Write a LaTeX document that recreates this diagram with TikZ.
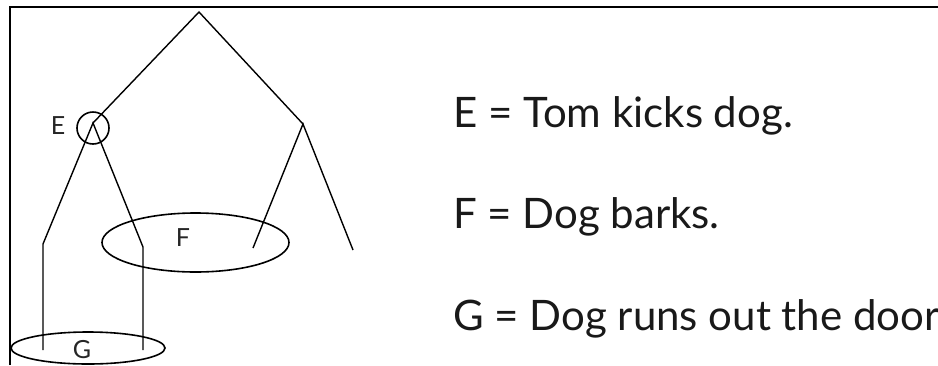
\documentclass[tikz,border=0pt]{standalone}
\usepackage{fontspec}
\setmainfont{Lato}
\usetikzlibrary{shapes.geometric}
\begin{document}
\begin{tikzpicture}[x=1pt,y=-1pt,
  frameline/.style={line width=2.2pt,black},
  branch/.style={line width=1.4pt,black},
  ring/.style={line width=1.6pt,black},
  lbl/.style={font=\fontsize{25}{27}\selectfont,text=black!85,inner sep=0pt},
  eqn/.style={font=\fontsize{42}{46}\selectfont,text=black!90,inner sep=0pt,anchor=base west}]
\useasboundingbox (0,0) rectangle (938,365);
% frame
\coordinate (fl) at (10,365);
\coordinate (ft) at (10,7);
\coordinate (fr) at (938,7);
\draw[frameline] (fl) -- (ft) -- (fr);
% tree points
\coordinate (root) at (199,12);
\coordinate (E) at (93,123);
\coordinate (R) at (303,124);
\coordinate (EL) at (43,244);
\coordinate (ELb) at (43,350);
\coordinate (ER) at (143,247);
\coordinate (ERb) at (143,350);
\coordinate (RL) at (253,248);
\coordinate (RR) at (353,250);
\draw[branch] (E) -- (root) -- (R);
\draw[branch] (ELb) -- (EL) -- (E) -- (ER) -- (ERb);
\draw[branch] (RL) -- (R) -- (RR);
% circle and ellipses
\node[ring,draw,circle,minimum size=32pt,inner sep=0pt] (Ec) at (93,128) {};
\node[ring,draw,ellipse,minimum width=187pt,minimum height=59pt,inner sep=0pt] (Fe) at (195.5,242.5) {};
\node[ring,draw,ellipse,minimum width=154pt,minimum height=32pt,inner sep=0pt] (Ge) at (88,348) {};
% labels
\node[lbl] (Elab) at (58,126) {E};
\node[lbl] (Flab) at (183,238) {F};
\node[lbl] (Glab) at (82,350) {G};
% equations
\node[eqn] (t1) at (453,127) {E = Tom kicks dog.};
\node[eqn] (t2) at (453,228) {F = Dog barks.};
\node[eqn] (t3) at (453,330) {G = Dog runs out the door};
\end{tikzpicture}
\end{document}
